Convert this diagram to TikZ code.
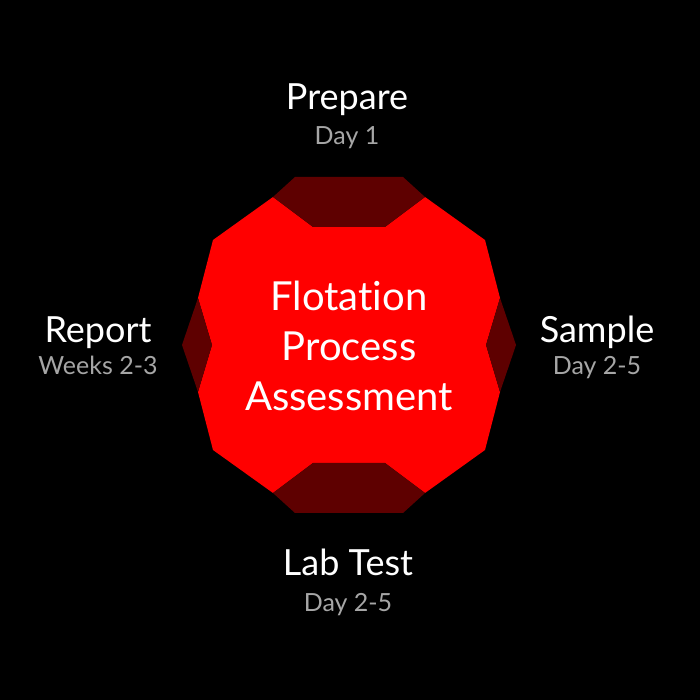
\documentclass[tikz,border=0pt]{standalone}
\usepackage{fontspec}
\setmainfont{Lato}[Ligatures={NoCommon,TeX}]
\usetikzlibrary{positioning}
\definecolor{hotred}{RGB}{255,0,0}
\definecolor{deepred}{RGB}{94,0,0}
\definecolor{timegray}{RGB}{166,166,166}

\tikzset{
  stagelabel/.style={anchor=base,text=white,inner sep=0pt,font=\fontsize{36}{42}\selectfont},
  stagetime/.style={anchor=base,text=timegray,inner sep=0pt,font=\fontsize{25}{30}\selectfont},
  corelabel/.style={align=center,text=white,inner sep=0pt,font=\fontsize{40}{50}\selectfont}
}

\begin{document}
\begin{tikzpicture}[x=1pt,y=1pt]
    \fill[black] (0,0) rectangle (700,700);
    \useasboundingbox (0,0) rectangle (700,700);

    \begin{scope}[shift={(349,355)}]
      % red core with notches
      \fill[hotred] (-76,148) -- (-36,118) -- (36,118) -- (76,148) -- (136,105) -- (151,47)
        -- (137,0) -- (151,-47) -- (136,-105) -- (76,-148) -- (36,-118) -- (-36,-118)
        -- (-76,-148) -- (-136,-105) -- (-151,-47) -- (-137,0) -- (-151,47) -- (-136,105) -- cycle;
      % dark pieces
      \fill[deepred] (-54,168) -- (54,168) -- (76,148) -- (36,118) -- (-36,118) -- (-76,148) -- cycle;
      \fill[deepred] (-54,-168) -- (54,-168) -- (76,-148) -- (36,-118) -- (-36,-118) -- (-76,-148) -- cycle;
      \fill[deepred] (151,47) -- (167,0) -- (151,-47) -- (137,0) -- cycle;
      \fill[deepred] (-151,47) -- (-167,0) -- (-151,-47) -- (-137,0) -- cycle;
    \end{scope}

    \node[corelabel] (core) at (349,354) {Flotation\\Process\\Assessment};

    \node[stagelabel] (prepare) at (347,590) {Prepare};
    \node[stagetime] (prepareday) at (347,555) {Day 1};
    \node[stagelabel] (sample) at (597,357) {Sample};
    \node[stagetime] (sampleday) at (597,325) {Day 2-5};
    \node[stagelabel] (labtest) at (348,124) {Lab Test};
    \node[stagetime] (labtestday) at (348,88) {Day 2-5};
    \node[stagelabel] (report) at (98,357) {Report};
    \node[stagetime] (reportweeks) at (98,325) {Weeks 2-3};

\end{tikzpicture}
\end{document}
